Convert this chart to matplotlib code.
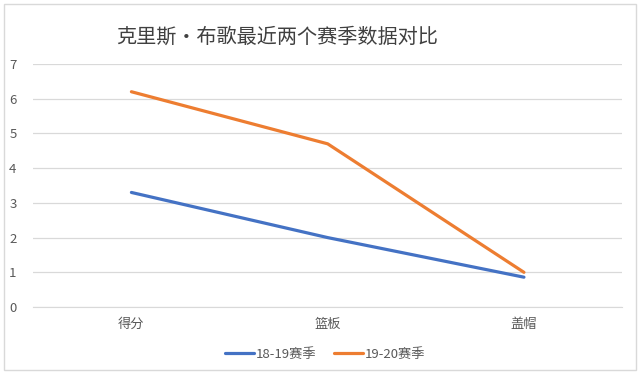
import numpy as np
import matplotlib
matplotlib.use("Agg")
import matplotlib.pyplot as plt
from matplotlib.patches import Rectangle

plt.rcParams['font.family'] = ['Noto Sans CJK SC', 'DejaVu Sans']

categories = ["得分", "篮板", "盖帽"]
season_1819 = [3.3, 2.0, 0.86]
season_1920 = [6.2, 4.7, 1.0]
series_names = ["18-19赛季", "19-20赛季"]

fig = plt.figure(figsize=(6.4, 3.74), dpi=100)
ax = fig.add_axes([0.052, 0.179, 0.92, 0.65])

x = np.arange(len(categories))
ax.plot(x, season_1819, color="#4472C4", lw=2.3, label=series_names[0], solid_capstyle="round")
ax.plot(x, season_1920, color="#ED7D31", lw=2.3, label=series_names[1], solid_capstyle="round")

ax.set_xlim(-0.5, len(categories) - 0.5)
ax.set_ylim(0, 7)
ax.set_yticks(range(0, 8))
ax.set_xticks(x)
ax.set_xticklabels(categories)
ax.yaxis.grid(True, color="#D9D9D9", lw=0.9)
ax.set_axisbelow(True)
for s in ["top", "right", "left"]:
    ax.spines[s].set_visible(False)
ax.spines["bottom"].set_color("#D9D9D9")
ax.tick_params(axis="both", length=0, colors="#595959", labelsize=9.5)
ax.tick_params(axis="y", pad=12)
ax.tick_params(axis="x", pad=8)

fig.text(0.433, 0.9, "克里斯·布歌最近两个赛季数据对比", fontsize=14.5,
         color="#404040", ha="center", va="center")

fig.legend(loc="center", bbox_to_anchor=(0.508, 0.053), ncol=2, frameon=False,
           fontsize=9.5, handlelength=2.2, handletextpad=0.1, columnspacing=1.4,
           labelcolor="#595959")

fig.patches.append(Rectangle((0.006, 0.01), 0.988, 0.978, transform=fig.transFigure,
                             fill=False, edgecolor="#D9D9D9", lw=1))

fig.savefig("out.png", dpi=100)
